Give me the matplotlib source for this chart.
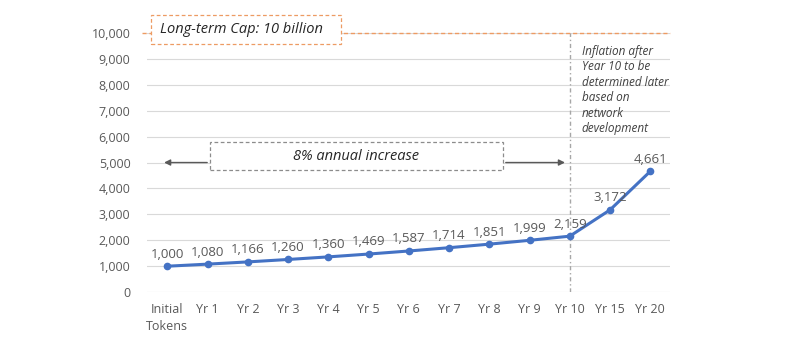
import matplotlib
matplotlib.use("Agg")
import matplotlib.pyplot as plt
from matplotlib.patches import Rectangle

categories = ["Initial\nTokens", "Yr 1", "Yr 2", "Yr 3", "Yr 4", "Yr 5", "Yr 6",
              "Yr 7", "Yr 8", "Yr 9", "Yr 10", "Yr 15", "Yr 20"]
supply = [1000, 1080, 1166, 1260, 1360, 1469, 1587, 1714, 1851, 1999, 2159, 3172, 4661]
yticks = list(range(0, 10001, 1000))
cap_value = 10000
cap_label = "Long-term Cap: 10 billion"
growth_label = "8% annual increase"
note_label = "Inflation after\nYear 10 to be\ndetermined later\nbased on\nnetwork\ndevelopment"

plt.rcParams['font.family'] = ['Open Sans', 'DejaVu Sans']
fig = plt.figure(figsize=(8, 3.58), dpi=100)
ax = fig.add_axes([0.184, 0.184, 0.654, 0.724])
x = list(range(len(categories)))
gray = "#595959"

ax.set_xlim(-0.5, len(categories) - 0.5)
ax.set_ylim(0, 10000)
ax.set_yticks(yticks)
ax.set_yticklabels([f"{v:,}" for v in yticks], color=gray, fontsize=9)
ax.set_xticks(x)
ax.set_xticklabels(categories, color=gray, fontsize=9, linespacing=1.4)
ax.tick_params(axis='y', length=0, pad=12)
ax.tick_params(axis='x', length=0, pad=8)
for s in ax.spines.values():
    s.set_visible(False)
ax.grid(axis='y', color="#d9d9d9", linewidth=0.8)
ax.set_axisbelow(True)

ax.plot(x, supply, color="#4472C4", linewidth=2.2, marker='o', markersize=4.5, zorder=5)
for i, v in enumerate(supply):
    ax.annotate(f"{v:,}", (i, v), xytext=(0, 4), textcoords='offset points',
                ha='center', va='bottom', fontsize=9.5, color=gray, zorder=6)

# cap line
ax.axhline(cap_value, color="#ED9B63", linestyle=(0, (3, 2)), linewidth=1.0, xmin=-0.01,
           clip_on=False, zorder=3)
ax.add_patch(Rectangle((-0.40, 9575), 4.72, 1120, facecolor='white', edgecolor="#ED9B63",
                       linestyle=(0, (3, 2)), linewidth=0.9, zorder=6, clip_on=False))
ax.text(-0.18, 10150, cap_label, fontsize=10.5, style='italic', color="#262626",
        ha='left', va='center', zorder=7, clip_on=False)

# vertical divider at Yr 10
ax.axvline(10, color="#a6a6a6", linestyle=(0, (3, 2, 1, 2)), linewidth=1.0, zorder=2)

# growth box and arrows
ax.add_patch(Rectangle((1.06, 4700), 7.28, 1100, facecolor='white', edgecolor="#8c8c8c",
                       linestyle=(0, (3, 2)), linewidth=0.9, zorder=4))
ax.text(4.7, 5250, growth_label, fontsize=10.5, style='italic', color="#262626",
        ha='center', va='center', zorder=5)
ax.annotate("", xy=(-0.15, 5000), xytext=(1.06, 5000),
            arrowprops=dict(arrowstyle='-|>', color="#595959", lw=1.0, mutation_scale=9), zorder=5)
ax.annotate("", xy=(9.95, 5000), xytext=(8.34, 5000),
            arrowprops=dict(arrowstyle='-|>', color="#595959", lw=1.0, mutation_scale=9), zorder=5)

ax.text(10.3, 9550, note_label, fontsize=8.5, style='italic', color="#404040",
        ha='left', va='top', linespacing=1.25, zorder=5)

fig.savefig("out.png", dpi=100, facecolor='white')
